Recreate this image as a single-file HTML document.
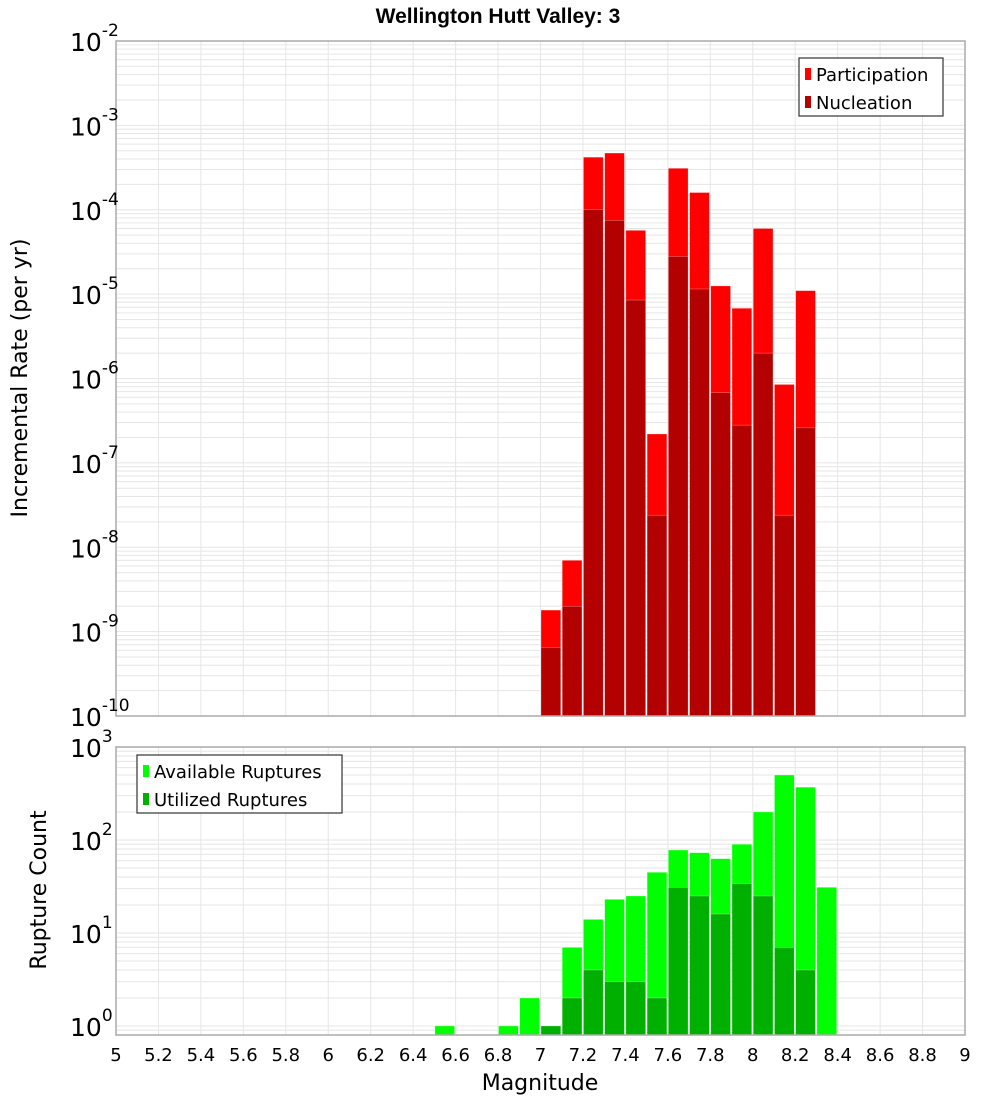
<!DOCTYPE html>
<html><head><meta charset="utf-8"><style>
body{margin:0;background:#fff;width:1000px;height:1100px;overflow:hidden}
svg{font-family:"DejaVu Sans","Liberation Sans",sans-serif}
</style></head><body>
<svg id="c" width="1000" height="1100" xmlns="http://www.w3.org/2000/svg">
<text x="498" y="23" text-anchor="middle" font-size="21" font-weight="bold" font-family="Liberation Sans, sans-serif">Wellington Hutt Valley: 3</text>
<text transform="translate(27,378) rotate(-90)" text-anchor="middle" font-size="22">Incremental Rate (per yr)</text>
<text transform="translate(46,890) rotate(-90)" text-anchor="middle" font-size="22">Rupture Count</text>
<text x="540" y="1090" text-anchor="middle" font-size="22">Magnitude</text>
<g id="g"></g>
</svg>
<script>
const magBins=[7.0,7.1,7.2,7.3,7.4,7.5,7.6,7.7,7.8,7.9,8.0,8.1,8.2];
const participation=[1.8e-9,7e-9,4.2e-4,4.7e-4,5.7e-5,2.2e-7,3.1e-4,1.6e-4,1.25e-5,6.8e-6,6e-5,8.5e-7,1.1e-5];
const nucleation=[6.5e-10,2e-9,1e-4,7.5e-5,8.5e-6,2.4e-8,2.8e-5,1.15e-5,6.8e-7,2.8e-7,2e-6,2.4e-8,2.6e-7];
const countBins=[6.5,6.8,6.9,7.0,7.1,7.2,7.3,7.4,7.5,7.6,7.7,7.8,7.9,8.0,8.1,8.2,8.3];
const available=[1,1,2,1,7,14,23,25,45,78,73,63,90,200,500,370,31];
const utilized=[0,0,0,1,2,4,3,3,2,31,25,16,34,25,7,4,0];
const xTicks=["5","5.2","5.4","5.6","5.8","6","6.2","6.4","6.6","6.8","7","7.2","7.4","7.6","7.8","8","8.2","8.4","8.6","8.8","9"];

const NS="http://www.w3.org/2000/svg",g=document.getElementById('g');
function el(t,a,txt){const e=document.createElementNS(NS,t);for(const k in a)e.setAttribute(k,a[k]);if(txt!==undefined)e.textContent=txt;g.appendChild(e);return e;}
const X0=116,X1=965;
const x=m=>X0+(m-5)/4*(X1-X0);
const T={top:41,bot:716,lmin:-10,lmax:-2};
const B={top:747,bot:1035,lmin:Math.log10(0.8),lmax:3+Math.log10(0.8)-Math.log10(0.8)+0};
B.lmax=3;B.lmin=-9/93;
const yT=v=>T.bot-(Math.log10(v)-T.lmin)/(T.lmax-T.lmin)*(T.bot-T.top);
const yB=v=>1026-Math.log10(v)*93;

function grid(P,yf,dmin,dmax){
  for(let d=dmin;d<=dmax;d++)for(let k=1;k<10;k++){const v=k*Math.pow(10,d);const yy=yf(v);if(yy<P.top-0.5||yy>P.bot+0.5)continue;
    const l=el('line',{x1:X0,x2:X1,y1:yy,y2:yy,stroke:'#e6e6e6','stroke-width':1});
    }
  xTicks.forEach(t=>{const xx=x(+t);const l=el('line',{x1:xx,x2:xx,y1:P.top,y2:P.bot,stroke:'#e6e6e6','stroke-width':1});
    });
}
grid(T,yT,-10,-3);grid(B,yB,-1,2);

function bars(bins,vals,yf,bot,color,name){
  bins.forEach((m,i)=>{if(vals[i]<=0)return;const yy=Math.max(yf(vals[i]),0);
    const r=el('rect',{x:x(m)+0.5,y:yy,width:x(m+0.1)-x(m)-1.5,height:bot-yy,fill:color,stroke:'#ffffff','stroke-opacity':0.5,'stroke-width':0.5});
    });
}
bars(magBins,participation,yT,T.bot,'#ff0000','participation-bar');
bars(magBins,nucleation,yT,T.bot,'#b30000','nucleation-bar');
bars(countBins,available,yB,B.bot,'#00ff00','available-bar');
bars(countBins,utilized,yB,B.bot,'#00b000','utilized-bar');

[[T,'top-plot-frame'],[B,'bottom-plot-frame']].forEach(([P,n])=>{const r=el('rect',{x:X0,y:P.top,width:X1-X0,height:P.bot-P.top,fill:'none',stroke:'#aaaaaa','stroke-width':1.5});
  });

function ylab(yy,exp,name){
  const t=el('text',{x:70,y:yy+10,'font-size':25});
  
  t.textContent='10';
  const s=document.createElementNS(NS,'tspan');s.setAttribute('dy','-15');s.setAttribute('font-size','17');s.textContent=exp;t.appendChild(s);
}
for(let d=-10;d<=-2;d++)ylab(yT(Math.pow(10,d)),String(d),'top-y-tick-label');
for(let d=0;d<=3;d++)ylab(yB(Math.pow(10,d)),String(d),'bottom-y-tick-label');
xTicks.forEach(t=>{const e=el('text',{x:x(+t),y:1061,'text-anchor':'middle','font-size':18},t);
  });

function legend(bx,by,w,items,name){
  const r=el('rect',{x:bx,y:by,width:w,height:58,fill:'#fff',stroke:'#333','stroke-width':1.2});
  
  items.forEach(([c,l],i)=>{const yy=by+16+i*28;
    const s=el('rect',{x:bx+6,y:yy-6,width:6,height:12,fill:c});
    
    const t=el('text',{x:bx+17,y:yy+7,'font-size':18},l);
    });
}
legend(799,58,144,[['#ff0000','Participation'],['#b30000','Nucleation']],'top-legend');
legend(137,755,205,[['#00ff00','Available Ruptures'],['#00b000','Utilized Ruptures']],'bottom-legend');
</script>
</body></html>
